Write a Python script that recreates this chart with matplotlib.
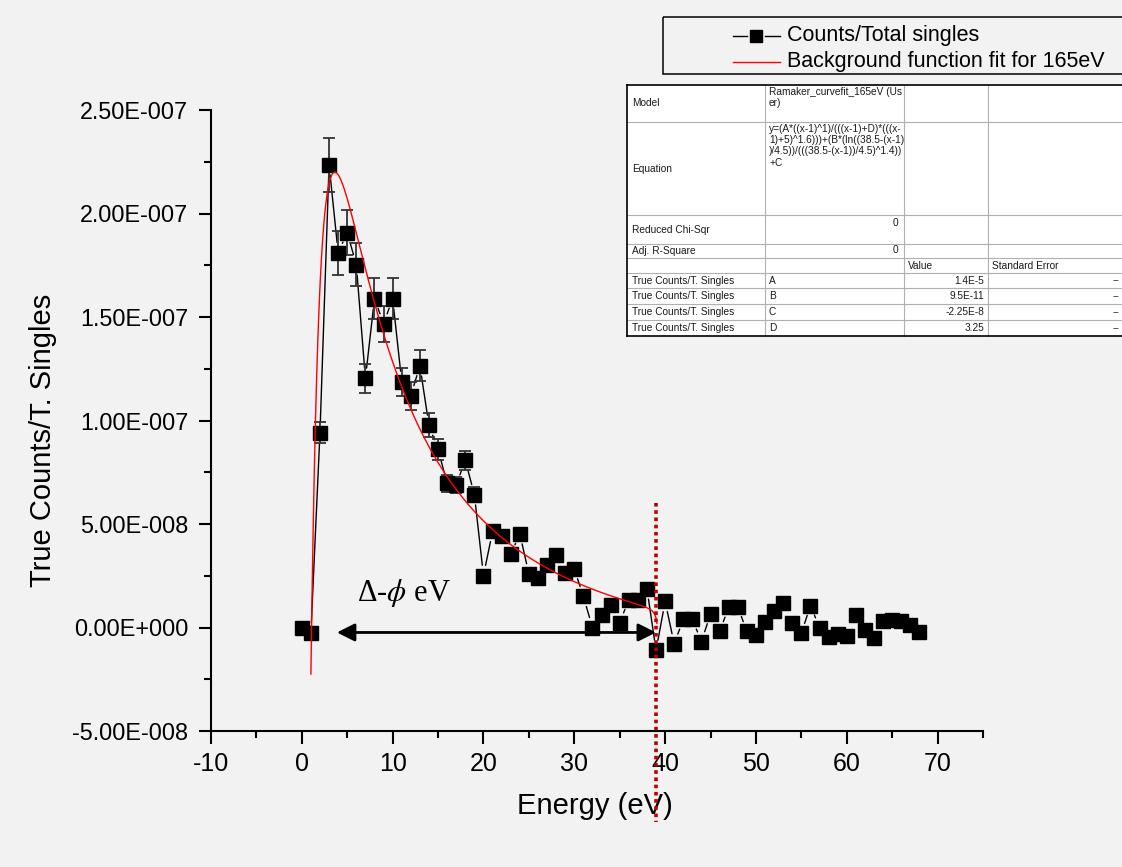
import numpy as np
import matplotlib
matplotlib.use("Agg")
import matplotlib.pyplot as plt
from matplotlib.ticker import MultipleLocator, FuncFormatter
from matplotlib.patches import Rectangle
from matplotlib.lines import Line2D

plt.rcParams['font.family'] = ['Liberation Sans', 'DejaVu Sans']
plt.rcParams['axes.unicode_minus'] = False
plt.rcParams['mathtext.fontset'] = 'stix'

# ---- measured spectrum (counts normalised to total singles, in units of 1e-8) ----
energy = np.arange(0, 69)
counts_e8 = [0.0, -0.25, 9.42, 22.36, 18.1, 19.08, 17.53, 12.03, 15.89, 14.68,
             15.89, 11.88, 11.2, 12.65, 9.76, 8.6, 6.96, 6.9, 8.07, 6.42,
             2.51, 4.64, 4.44, 3.53, 4.53, 2.59, 2.40, 3.03, 3.51, 2.62,
             2.83, 1.5, 0.0, 0.58, 1.10, 0.24, 1.34, 1.34, 1.87, -1.11,
             1.26, -0.79, 0.39, 0.39, -0.68, 0.66, -0.19, 0.97, 1.0, -0.19,
             -0.34, 0.26, 0.79, 1.19, 0.23, -0.28, 1.06, 0.0, -0.47, -0.29,
             -0.39, 0.58, -0.1, -0.5, 0.3, 0.34, 0.3, 0.13, -0.23]

# error bars exist only on the low-energy part of the spectrum
err_energy = np.arange(2, 20)
err_e8 = [0.53, 1.3, 1.07, 1.1, 1.04, 0.70, 0.97, 0.87, 0.97, 0.68,
          0.68, 0.75, 0.58, 0.51, 0.39, 0.39, 0.44, 0.36]

# ---- background fit parameters ----
param_names = ['A', 'B', 'C', 'D']
param_values = [1.4e-5, 9.5e-11, -2.25e-8, 3.25]
param_labels = ['1.4E-5', '9.5E-11', '-2.25E-8', '3.25']
fit_range = (1.0, 39.1)

# ---- annotations ----
cutoff_energy = 39.0
cutoff_span = (6.0e-8, -9.4e-8)
arrow_left = 3.86
arrow_level = -2.4e-9
label_pos = (6.07, 1.3e-8)

counts = np.array(counts_e8) * 1e-8
errs = np.array(err_e8) * 1e-8


def background(x, A, B, C, D):
    u = x - 1.0
    w = (38.5 - u) / 4.5
    return A * u / ((u + D) * (u + 5.0) ** 1.6) + B * np.log(w) / w ** 1.4 + C


def origin_sci(v, pos=None):
    if abs(v) < 1e-20:
        return "0.00E+000"
    e = int(np.floor(np.log10(abs(v)) + 1e-9))
    m = v / 10 ** e
    return f"{m:.2f}E{e:+04d}"


BG = '#f2f2f2'
W, H = 1122, 867
fig = plt.figure(figsize=(W / 100, H / 100), dpi=100, facecolor=BG)
ax = fig.add_axes([211 / W, 1 - 731 / H, (983 - 211) / W, (731 - 110) / H])
ax.set_facecolor(BG)
ax.set_xlim(-10, 75)
ax.set_ylim(-5e-8, 2.5e-7)

for s in ('top', 'right'):
    ax.spines[s].set_visible(False)
for s in ('left', 'bottom'):
    ax.spines[s].set_linewidth(1.5)

ax.xaxis.set_major_locator(MultipleLocator(10))
ax.xaxis.set_minor_locator(MultipleLocator(5))
ax.yaxis.set_major_locator(MultipleLocator(5e-8))
ax.yaxis.set_minor_locator(MultipleLocator(2.5e-8))
ax.yaxis.set_major_formatter(FuncFormatter(origin_sci))
ax.tick_params(which='major', direction='out', length=9, width=1.5)
ax.tick_params(which='minor', direction='out', length=5, width=1.5)
ax.tick_params(axis='x', which='major', labelsize=18, pad=6)
ax.tick_params(axis='y', which='major', labelsize=16.8, pad=7.5)

ax.set_xlabel('Energy (eV)', fontsize=21)
ax.xaxis.set_label_coords(0.497, -0.098)
ax.set_ylabel('True Counts/T. Singles', fontsize=21)
ax.yaxis.set_label_coords(-0.2, 0.4686)

# connecting line with small gaps around each marker
gap_pt = 7.5
pts = ax.transData.transform(np.column_stack([energy, counts]))
for i in range(len(energy) - 1):
    d_pt = np.hypot(*(pts[i + 1] - pts[i])) * 72 / fig.dpi
    if d_pt <= 2 * gap_pt + 1:
        continue
    ax.annotate('', xy=(energy[i + 1], counts[i + 1]), xytext=(energy[i], counts[i]),
                arrowprops=dict(arrowstyle='-', color='black', lw=1.0,
                                shrinkA=gap_pt, shrinkB=gap_pt), zorder=2)

ax.errorbar(err_energy, counts[2:20], yerr=errs, fmt='none', ecolor='#333333',
            elinewidth=1.3, capsize=4.5, capthick=1.3, zorder=3)
ax.plot(energy, counts, 's', ms=9.5, color='black', mec='black', zorder=4)

x_fit = np.linspace(fit_range[0], fit_range[1], 600)
ax.plot(x_fit, background(x_fit, *param_values), color='red', lw=1.0, zorder=5)

ax.plot([cutoff_energy, cutoff_energy], cutoff_span, color='#c00000', lw=2.6,
        linestyle=(0, (1, 1)), dash_capstyle='butt', clip_on=False, zorder=6)

ax.annotate('', xy=(arrow_left, arrow_level), xytext=(cutoff_energy, arrow_level),
            arrowprops=dict(arrowstyle='<|-|>,head_length=0.4,head_width=0.2',
                            mutation_scale=27, lw=2.0, color='black',
                            shrinkA=0, shrinkB=0), zorder=5)
ax.text(label_pos[0], label_pos[1], 'Δ-$\\phi$ eV', fontsize=22,
        family=['Liberation Serif', 'DejaVu Serif'], ha='left', va='baseline')

# ---- overlay in pixel units for the legend box and parameter table ----
ov = fig.add_axes([0, 0, 1, 1], zorder=10)
ov.set_xlim(0, W)
ov.set_ylim(H, 0)
ov.axis('off')
ov.patch.set_alpha(0)

# legend
ov.add_patch(Rectangle((663, 17), 480, 57, fill=False, ec='black', lw=1.1))
ov.add_line(Line2D([733, 747], [36, 36], color='black', lw=1.0))
ov.add_line(Line2D([765, 780], [36, 36], color='black', lw=1.0))
ov.plot([756], [36], 's', ms=9, color='black')
ov.text(787, 36, 'Counts/Total singles', fontsize=15.5, va='center', ha='left')
ov.add_line(Line2D([733, 780], [62, 62], color='red', lw=1.0))
ov.text(787, 62, 'Background function fit for 165eV', fontsize=15.5, va='center', ha='left')

# parameter table
tx0, tx1 = 627, 1135
col_x = [627, 765, 904, 988]
row_y = [85, 122, 215, 244, 258, 273, 288, 304, 320, 336]
ov.add_patch(Rectangle((tx0, row_y[0]), tx1 - tx0, row_y[-1] - row_y[0],
                       fc='white', ec='none'))
for y in row_y[1:-1]:
    ov.add_line(Line2D([tx0, tx1], [y, y], color='#b0b0b0', lw=0.8))
for x in col_x[1:]:
    ov.add_line(Line2D([x, x], [row_y[0], row_y[-1]], color='#b0b0b0', lw=0.8))
ov.add_line(Line2D([tx0, tx1], [row_y[0], row_y[0]], color='black', lw=1.2))
ov.add_line(Line2D([tx0, tx1], [row_y[-1], row_y[-1]], color='black', lw=1.2))
ov.add_line(Line2D([tx0, tx0], [row_y[0], row_y[-1]], color='black', lw=1.2))

fs = 7.3
tc = '#1a1a1a'
pad = 5
ov.text(tx0 + pad, 103, 'Model', fontsize=fs, color=tc, va='center')
ov.text(col_x[1] + 4, 87, 'Ramaker_curvefit_165eV (Us\ner)', fontsize=fs, color=tc,
        va='top', linespacing=1.15)
ov.text(tx0 + pad, 169, 'Equation', fontsize=fs, color=tc, va='center')
ov.text(col_x[1] + 4, 124,
        'y=(A*((x-1)^1)/(((x-1)+D)*(((x-\n1)+5)^1.6)))+(B*(ln((38.5-(x-1)\n'
        ')/4.5))/(((38.5-(x-1))/4.5)^1.4))\n+C',
        fontsize=fs, color=tc, va='top', linespacing=1.15)
ov.text(tx0 + pad, 230, 'Reduced Chi-Sqr', fontsize=fs, color=tc, va='center')
ov.text(col_x[2] - 6, 218, '0', fontsize=fs, color=tc, va='top', ha='right')
ov.text(tx0 + pad, 251, 'Adj. R-Square', fontsize=fs, color=tc, va='center')
ov.text(col_x[2] - 6, 250, '0', fontsize=fs, color=tc, va='center', ha='right')
ov.text(col_x[2] + 4, 266, 'Value', fontsize=fs, color=tc, va='center')
ov.text(col_x[3] + 4, 266, 'Standard Error', fontsize=fs, color=tc, va='center')
for k, (name, lab) in enumerate(zip(param_names, param_labels)):
    yc = (row_y[5 + k] + row_y[6 + k]) / 2
    ov.text(tx0 + pad, yc, 'True Counts/T. Singles', fontsize=fs, color=tc, va='center')
    ov.text(col_x[1] + 4, yc, name, fontsize=fs, color=tc, va='center')
    ov.text(col_x[3] - 4, yc, lab, fontsize=fs, color=tc, va='center', ha='right')
    ov.text(1119, yc, '--', fontsize=fs, color=tc, va='center', ha='right')

fig.savefig('out.png', dpi=100, facecolor=BG)
